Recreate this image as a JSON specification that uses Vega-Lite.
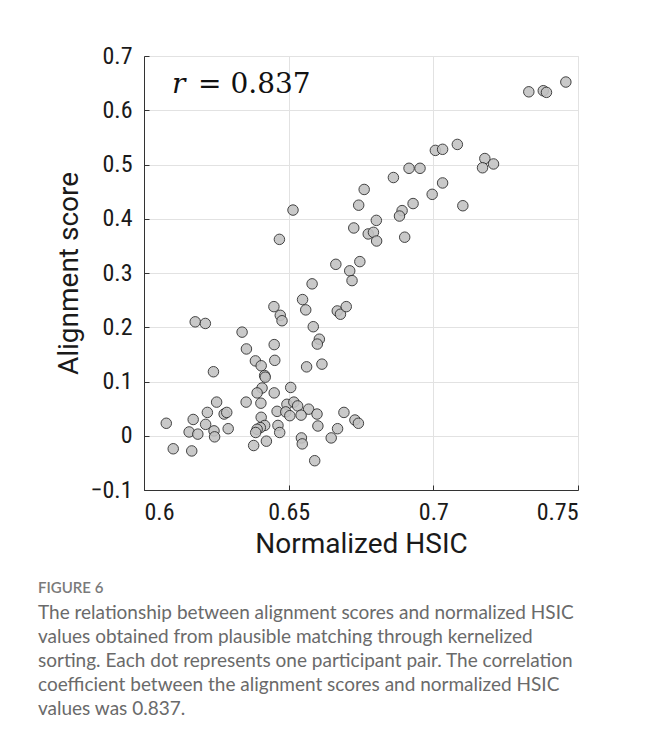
{
  "$schema": "https://vega.github.io/schema/vega-lite/v6.json",
  "width": 434,
  "height": 434,
  "autosize": {"type": "none"},
  "padding": {"left": 144, "top": 56, "right": 68, "bottom": 248},
  "background": "white",
  "config": {
    "view": {"stroke": "#e2e2e2", "strokeWidth": 1},
    "axis": {
      "labelFont": "Roboto Condensed, Liberation Sans Narrow, Liberation Sans",
      "labelFontSize": 24,
      "labelColor": "#1a1a1a",
      "titleFont": "Roboto, Liberation Sans",
      "titleFontSize": 28,
      "titleFontWeight": "normal",
      "titleColor": "#1a1a1a",
      "domainColor": "#333333",
      "tickColor": "#333333",
      "gridColor": "#e2e2e2",
      "tickSize": -5
    }
  },
  "title": {
    "text": "FIGURE 6",
    "subtitle": [
      "The relationship between alignment scores and normalized HSIC",
      "values obtained from plausible matching through kernelized",
      "sorting. Each dot represents one participant pair. The correlation",
      "coefficient between the alignment scores and normalized HSIC",
      "values was 0.837."
    ],
    "orient": "bottom",
    "anchor": "start",
    "frame": "bounds",
    "dx": -18,
    "offset": 23,
    "font": "Lato",
    "fontSize": 15,
    "fontWeight": 600,
    "color": "#7a7a7a",
    "subtitleFont": "Lato",
    "subtitleFontSize": 19,
    "subtitleColor": "#6a6a6a",
    "subtitleLineHeight": 24,
    "subtitlePadding": 8
  },
  "datasets": {
    "points": [
      {"hsic": 0.7330, "score": 0.634}, {"hsic": 0.7380, "score": 0.636}, {"hsic": 0.7391, "score": 0.633}, {"hsic": 0.7458, "score": 0.652},
      {"hsic": 0.7007, "score": 0.526}, {"hsic": 0.7032, "score": 0.528}, {"hsic": 0.7083, "score": 0.537}, {"hsic": 0.7178, "score": 0.511},
      {"hsic": 0.7170, "score": 0.494}, {"hsic": 0.7208, "score": 0.501}, {"hsic": 0.6862, "score": 0.476}, {"hsic": 0.6916, "score": 0.493},
      {"hsic": 0.6954, "score": 0.493}, {"hsic": 0.7032, "score": 0.466}, {"hsic": 0.6996, "score": 0.445}, {"hsic": 0.6930, "score": 0.428},
      {"hsic": 0.6892, "score": 0.415}, {"hsic": 0.6883, "score": 0.405}, {"hsic": 0.7102, "score": 0.424}, {"hsic": 0.6901, "score": 0.366},
      {"hsic": 0.6761, "score": 0.454}, {"hsic": 0.6742, "score": 0.425}, {"hsic": 0.6515, "score": 0.416}, {"hsic": 0.6803, "score": 0.397},
      {"hsic": 0.6725, "score": 0.383}, {"hsic": 0.6775, "score": 0.372}, {"hsic": 0.6793, "score": 0.375}, {"hsic": 0.6804, "score": 0.359},
      {"hsic": 0.6468, "score": 0.362}, {"hsic": 0.6663, "score": 0.316}, {"hsic": 0.6746, "score": 0.321}, {"hsic": 0.6711, "score": 0.304},
      {"hsic": 0.6719, "score": 0.286}, {"hsic": 0.6581, "score": 0.280}, {"hsic": 0.6548, "score": 0.251}, {"hsic": 0.6559, "score": 0.232},
      {"hsic": 0.6449, "score": 0.238}, {"hsic": 0.6471, "score": 0.222}, {"hsic": 0.6477, "score": 0.212}, {"hsic": 0.6668, "score": 0.230},
      {"hsic": 0.6679, "score": 0.224}, {"hsic": 0.6699, "score": 0.238}, {"hsic": 0.6177, "score": 0.210}, {"hsic": 0.6212, "score": 0.207},
      {"hsic": 0.6339, "score": 0.191}, {"hsic": 0.6585, "score": 0.201}, {"hsic": 0.6606, "score": 0.178}, {"hsic": 0.6599, "score": 0.169},
      {"hsic": 0.6354, "score": 0.160}, {"hsic": 0.6450, "score": 0.168}, {"hsic": 0.6452, "score": 0.139}, {"hsic": 0.6385, "score": 0.138},
      {"hsic": 0.6405, "score": 0.129}, {"hsic": 0.6417, "score": 0.111}, {"hsic": 0.6419, "score": 0.108}, {"hsic": 0.6562, "score": 0.127},
      {"hsic": 0.6615, "score": 0.132}, {"hsic": 0.6240, "score": 0.118}, {"hsic": 0.6507, "score": 0.089}, {"hsic": 0.6408, "score": 0.088},
      {"hsic": 0.6391, "score": 0.079}, {"hsic": 0.6450, "score": 0.079}, {"hsic": 0.6251, "score": 0.062}, {"hsic": 0.6353, "score": 0.062},
      {"hsic": 0.6404, "score": 0.060}, {"hsic": 0.6219, "score": 0.043}, {"hsic": 0.6277, "score": 0.040}, {"hsic": 0.6286, "score": 0.043},
      {"hsic": 0.6170, "score": 0.030}, {"hsic": 0.6077, "score": 0.023}, {"hsic": 0.6213, "score": 0.021}, {"hsic": 0.6156, "score": 0.007},
      {"hsic": 0.6186, "score": 0.003}, {"hsic": 0.6242, "score": 0.009}, {"hsic": 0.6244, "score": -0.002}, {"hsic": 0.6291, "score": 0.013},
      {"hsic": 0.6101, "score": -0.024}, {"hsic": 0.6165, "score": -0.028}, {"hsic": 0.6494, "score": 0.058}, {"hsic": 0.6518, "score": 0.062},
      {"hsic": 0.6531, "score": 0.055}, {"hsic": 0.6569, "score": 0.049}, {"hsic": 0.6460, "score": 0.045}, {"hsic": 0.6490, "score": 0.044},
      {"hsic": 0.6504, "score": 0.037}, {"hsic": 0.6543, "score": 0.038}, {"hsic": 0.6598, "score": 0.040}, {"hsic": 0.6691, "score": 0.043},
      {"hsic": 0.6729, "score": 0.029}, {"hsic": 0.6741, "score": 0.023}, {"hsic": 0.6405, "score": 0.034}, {"hsic": 0.6601, "score": 0.018},
      {"hsic": 0.6669, "score": 0.013}, {"hsic": 0.6647, "score": -0.004}, {"hsic": 0.6417, "score": 0.019}, {"hsic": 0.6402, "score": 0.015},
      {"hsic": 0.6391, "score": 0.012}, {"hsic": 0.6386, "score": 0.006}, {"hsic": 0.6463, "score": 0.019}, {"hsic": 0.6469, "score": 0.006},
      {"hsic": 0.6544, "score": -0.004}, {"hsic": 0.6547, "score": -0.015}, {"hsic": 0.6423, "score": -0.010}, {"hsic": 0.6379, "score": -0.018},
      {"hsic": 0.6590, "score": -0.046}
    ]
  },
  "layer": [
    {
      "data": {"name": "points"},
      "mark": {"type": "circle", "size": 110, "fill": "#c2c2c2", "stroke": "#2a2a2a", "strokeWidth": 1, "opacity": 0.88},
      "encoding": {
        "x": {
          "field": "hsic", "type": "quantitative",
          "scale": {"domain": [0.6, 0.75], "nice": false, "zero": false},
          "axis": {"title": "Normalized HSIC", "values": [0.6, 0.65, 0.7, 0.75], "format": "~g", "grid": true, "labelPadding": 15, "titlePadding": 6}
        },
        "y": {
          "field": "score", "type": "quantitative",
          "scale": {"domain": [-0.1, 0.7], "nice": false, "zero": false},
          "axis": {"title": "Alignment score", "values": [-0.1, 0, 0.1, 0.2, 0.3, 0.4, 0.5, 0.6, 0.7], "format": "~g", "grid": true, "labelPadding": 17, "titlePadding": 6}
        }
      }
    },
    {
      "data": {"values": [{"hsic": 0.6097, "score": 0.6313, "t": "r"}]},
      "mark": {"type": "text", "font": "DejaVu Serif", "fontStyle": "italic", "fontSize": 28, "align": "left", "baseline": "alphabetic", "color": "#111111"},
      "encoding": {
        "x": {"field": "hsic", "type": "quantitative"},
        "y": {"field": "score", "type": "quantitative"},
        "text": {"field": "t"}
      }
    },
    {
      "data": {"values": [{"hsic": 0.6187, "score": 0.6313, "t": "= 0.837"}]},
      "mark": {"type": "text", "font": "DejaVu Serif", "fontSize": 28, "align": "left", "baseline": "alphabetic", "color": "#111111"},
      "encoding": {
        "x": {"field": "hsic", "type": "quantitative"},
        "y": {"field": "score", "type": "quantitative"},
        "text": {"field": "t"}
      }
    }
  ]
}
